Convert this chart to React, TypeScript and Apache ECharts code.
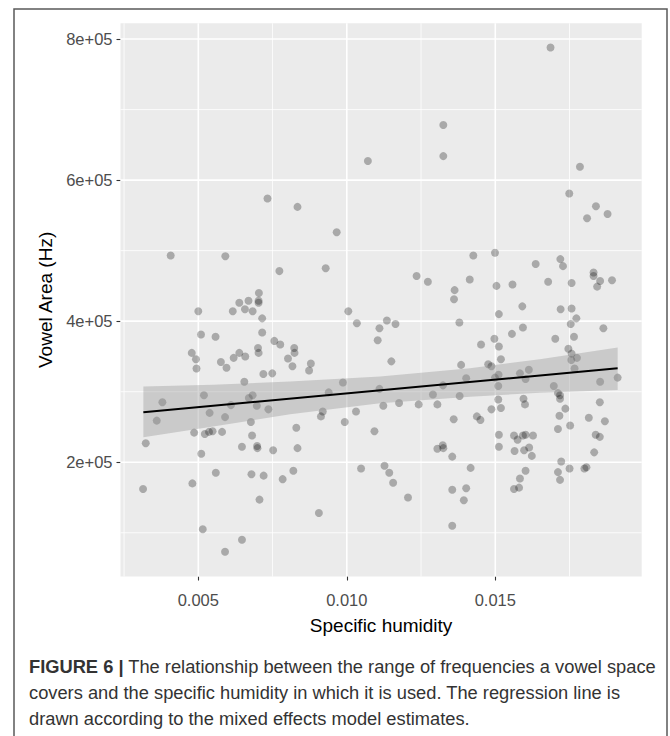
import React, { useEffect, useRef } from "react";
import * as echarts from "echarts";

// Specific humidity (x) and vowel area in Hz (y), one entry per language
const humidity = [
  0.01686, 0.01325, 0.01325, 0.01071, 0.01785, 0.01749, 0.00733, 0.00834, 0.01839, 0.01878,
  0.01809, 0.00966, 0.01499, 0.01426, 0.00407, 0.00591, 0.01719, 0.01636, 0.01728, 0.00929,
  0.00773, 0.01831, 0.01831, 0.01235, 0.01893, 0.01853, 0.01414, 0.01678, 0.01273, 0.01757,
  0.01558, 0.01504, 0.01843, 0.01363, 0.00704, 0.01361, 0.00638, 0.00669, 0.00703, 0.00703,
  0.00657, 0.01591, 0.01757, 0.01720, 0.01005, 0.00683, 0.00616, 0.00500, 0.01512, 0.01773,
  0.00715, 0.01135, 0.01379, 0.01034, 0.01164, 0.01754, 0.01593, 0.01110, 0.01864, 0.00715,
  0.00509, 0.01556, 0.00558, 0.01765, 0.01702, 0.01497, 0.01104, 0.00756, 0.01452, 0.00776,
  0.01512, 0.00701, 0.00823, 0.01746, 0.00478, 0.00638, 0.00703, 0.00824, 0.01757, 0.00658,
  0.00619, 0.00802, 0.00492, 0.01775, 0.01756, 0.01519, 0.00576, 0.01150, 0.00879, 0.01385,
  0.01476, 0.01487, 0.00817, 0.00494, 0.00595, 0.01767, 0.01613, 0.00873, 0.00749, 0.00719,
  0.01583, 0.01511, 0.01402, 0.01499, 0.01602, 0.01912, 0.00655, 0.00987, 0.01853, 0.01324,
  0.01510, 0.01697, 0.01110, 0.00939, 0.01711, 0.01718, 0.01290, 0.00683, 0.00519, 0.01380,
  0.00670, 0.01718, 0.01510, 0.01595, 0.00379, 0.01176, 0.01852, 0.01600, 0.01242, 0.01305,
  0.00610, 0.01123, 0.00697, 0.01519, 0.01736, 0.00736, 0.01487, 0.00919, 0.01031, 0.00538,
  0.00913, 0.01438, 0.01716, 0.00590, 0.01815, 0.01450, 0.00360, 0.01360, 0.01869, 0.00993,
  0.00677, 0.01752, 0.00830, 0.01711, 0.01093, 0.00548, 0.00536, 0.00486, 0.00580, 0.00522,
  0.01512, 0.01563, 0.01593, 0.01602, 0.01627, 0.01838, 0.00681, 0.01852, 0.01575, 0.00323,
  0.01323, 0.01305, 0.01325, 0.00647, 0.00698, 0.00699, 0.00834, 0.01512, 0.01614, 0.00752,
  0.01565, 0.01597, 0.01833, 0.00510, 0.01623, 0.01355, 0.01722, 0.01127, 0.01807, 0.01048,
  0.01417, 0.01750, 0.01800, 0.00820, 0.01602, 0.01711, 0.00559, 0.01143, 0.00679, 0.00720,
  0.01583, 0.00784, 0.01718, 0.01156, 0.00480, 0.01580, 0.01563, 0.01402, 0.00314, 0.01355,
  0.01206, 0.00706, 0.01394, 0.00906, 0.01355, 0.00515, 0.00647, 0.00590,
];

const vowelArea = [
  788000, 678000, 634000, 627000, 619000, 581000, 574000, 562000, 563000, 552000,
  546000, 526000, 497000, 493000, 493000, 492000, 488000, 481000, 478000, 475000,
  471000, 469000, 464000, 464000, 458000, 457000, 459000, 456000, 456000, 454000,
  452000, 450000, 449000, 444000, 440000, 431000, 426000, 429000, 429000, 426000,
  417000, 421000, 418000, 417000, 414000, 414000, 414000, 414000, 410000, 404000,
  404000, 401000, 398000, 397000, 396000, 396000, 391000, 390000, 390000, 384000,
  381000, 382000, 378000, 378000, 375000, 375000, 373000, 372000, 367000, 367000,
  364000, 362000, 362000, 361000, 355000, 355000, 355000, 355000, 354000, 350000,
  348000, 347000, 346000, 348000, 345000, 346000, 342000, 343000, 340000, 338000,
  339000, 336000, 336000, 333000, 334000, 333000, 331000, 330000, 326000, 325000,
  326000, 324000, 319000, 320000, 318000, 320000, 314000, 313000, 314000, 309000,
  308000, 308000, 304000, 299000, 298000, 295000, 296000, 295000, 295000, 294000,
  291000, 290000, 289000, 290000, 285000, 284000, 285000, 282000, 282000, 282000,
  281000, 280000, 280000, 277000, 276000, 275000, 275000, 272000, 272000, 270000,
  265000, 265000, 266000, 264000, 263000, 260000, 259000, 261000, 258000, 257000,
  257000, 252000, 249000, 247000, 244000, 244000, 243000, 242000, 243000, 240000,
  239000, 238000, 238000, 239000, 238000, 239000, 238000, 236000, 232000, 227000,
  224000, 219000, 220000, 222000, 223000, 220000, 220000, 222000, 221000, 217000,
  216000, 217000, 214000, 212000, 209000, 208000, 201000, 195000, 193000, 191000,
  192000, 191000, 191000, 188000, 188000, 186000, 185000, 185000, 183000, 181000,
  177000, 176000, 175000, 171000, 170000, 164000, 162000, 163000, 162000, 161000,
  150000, 147000, 146000, 128000, 110000, 105000, 90000, 73000,
];

// Mixed-model regression line and its confidence band
const fitX = [0.00315, 0.01912];
const fitY = [270900, 333300];
const bandX = [0.00315, 0.0055, 0.00809, 0.01112, 0.01415, 0.0165, 0.01912];
const bandLower = [235400, 250500, 268100, 283700, 293000, 298500, 302500];
const bandUpper = [307200, 310000, 314300, 321400, 333300, 346000, 362500];

// Axis ticks and grid lines
const xTicks = [0.005, 0.01, 0.015];
const xMinor = [0.0025, 0.0075, 0.0125, 0.0175];
const yTicks = [200000, 400000, 600000, 800000];
const yMinor = [100000, 300000, 500000, 700000];
const xRange = [0.00238, 0.01993];
const yRange = [38000, 822300];

const captionLines = [
  "{b|FIGURE 6 |} The relationship between the range of frequencies a vowel space",
  "covers and the specific humidity in which it is used. The regression line is",
  "drawn according to the mixed effects model estimates.",
];

const FONT = "'Liberation Sans', Arial, Helvetica, sans-serif";

function sci(v: number): string {
  const e = Math.floor(Math.log10(v) + 1e-9);
  const m = Math.round(v / Math.pow(10, e));
  return `${m}e+${String(e).padStart(2, "0")}`;
}

export default function App() {
  const ref = useRef<HTMLDivElement>(null);

  useEffect(() => {
    document.body.style.margin = "0";
    const chart = echarts.init(ref.current!, null, { renderer: "svg" });

    const points = humidity.map((x, i) => [x, vowelArea[i]]);
    const bandData = bandX.map((x, i) => [x, bandLower[i], bandUpper[i]]);
    const vLines = [...xMinor, ...xTicks].map((v) => [v, yRange[0]]);
    const hLines = [...yMinor, ...yTicks].map((v) => [xRange[0], v]);

    chart.setOption({
      animation: false,
      grid: {
        left: 120.5,
        top: 23.3,
        width: 521.2,
        height: 553.2,
        show: true,
        backgroundColor: "#ebebeb",
        borderWidth: 0,
      },
      xAxis: {
        type: "value",
        min: xRange[0],
        max: xRange[1],
        splitLine: { show: false },
        axisLine: { show: false },
        axisTick: {
          show: true,
          customValues: xTicks,
          length: 4,
          lineStyle: { color: "#333333", width: 1.1 },
        },
        axisLabel: {
          customValues: xTicks,
          formatter: (v: number) => v.toFixed(3),
          color: "#4d4d4d",
          fontSize: 16.5,
          fontFamily: FONT,
          margin: 15,
        },
        name: "Specific humidity",
        nameLocation: "middle",
        nameGap: 39,
        nameTextStyle: { color: "#000000", fontSize: 19, fontFamily: FONT },
      },
      yAxis: {
        type: "value",
        min: yRange[0],
        max: yRange[1],
        splitLine: { show: false },
        axisLine: { show: false },
        axisTick: {
          show: true,
          customValues: yTicks,
          length: 4,
          lineStyle: { color: "#333333", width: 1.1 },
        },
        axisLabel: {
          customValues: yTicks,
          formatter: (v: number) => sci(v),
          color: "#4d4d4d",
          fontSize: 16.5,
          fontFamily: FONT,
          margin: 8,
        },
        name: "Vowel Area (Hz)",
        nameLocation: "middle",
        nameGap: 66,
        nameRotate: 90,
        nameTextStyle: { color: "#000000", fontSize: 19, fontFamily: FONT },
      },
      series: [
        {
          type: "custom",
          data: vLines,
          silent: true,
          z: 1,
          encode: { x: 0, y: 1 },
          renderItem: (params: any, api: any) => {
            const v = api.value(0);
            const p1 = api.coord([v, yRange[0]]);
            const p2 = api.coord([v, yRange[1]]);
            const minor = params.dataIndex < xMinor.length;
            return {
              type: "line",
              shape: { x1: p1[0], y1: p1[1], x2: p2[0], y2: p2[1] },
              style: { stroke: "#ffffff", lineWidth: minor ? 0.8 : 1.6 },
            };
          },
        },
        {
          type: "custom",
          data: hLines,
          silent: true,
          z: 1,
          encode: { x: 0, y: 1 },
          renderItem: (params: any, api: any) => {
            const v = api.value(1);
            const p1 = api.coord([xRange[0], v]);
            const p2 = api.coord([xRange[1], v]);
            const minor = params.dataIndex < yMinor.length;
            return {
              type: "line",
              shape: { x1: p1[0], y1: p1[1], x2: p2[0], y2: p2[1] },
              style: { stroke: "#ffffff", lineWidth: minor ? 0.8 : 1.6 },
            };
          },
        },
        {
          type: "scatter",
          data: points,
          symbolSize: 8,
          silent: true,
          z: 2,
          itemStyle: { color: "rgba(0,0,0,0.35)" },
        },
        {
          type: "custom",
          data: bandData,
          silent: true,
          z: 3,
          encode: { x: 0, y: [1, 2] },
          renderItem: (params: any, api: any) => {
            if (params.dataIndex !== 0) return null;
            const upper = bandX.map((x, i) => api.coord([x, bandUpper[i]]));
            const lower = bandX.map((x, i) => api.coord([x, bandLower[i]])).reverse();
            return {
              type: "polygon",
              shape: { points: upper.concat(lower) },
              style: { fill: "rgba(153,153,153,0.4)" },
            };
          },
        },
        {
          type: "line",
          data: fitX.map((x, i) => [x, fitY[i]]),
          symbol: "none",
          silent: true,
          z: 4,
          lineStyle: { color: "#000000", width: 2 },
        },
      ],
      graphic: [
        {
          type: "polyline",
          silent: true,
          shape: { points: [[14, 745], [14, 9], [667, 9], [667, 745]] },
          style: { stroke: "#5a5a5a", lineWidth: 1.5, fill: "none" },
        },
        ...captionLines.map((t, i) => ({
          type: "text",
          silent: true,
          x: 29,
          y: 666 + i * 26,
          style: {
            text: t,
            fontSize: 18.3,
            fontFamily: FONT,
            fill: "#333333",
            verticalAlign: "middle",
            rich: {
              b: { fontWeight: "bold", fontSize: 18.3, fontFamily: FONT, fill: "#333333" },
            },
          },
        })),
      ],
    });

    return () => chart.dispose();
  }, []);

  return (
    <div
      ref={ref}
      style={{ position: "absolute", left: 0, top: 0, width: 670, height: 736, background: "#ffffff" }}
    />
  );
}
